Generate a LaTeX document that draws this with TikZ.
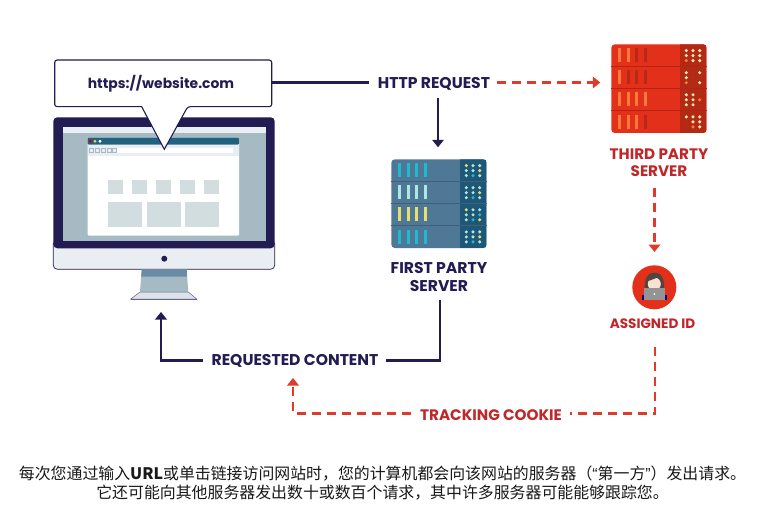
\documentclass[tikz,border=0pt]{standalone}
\usepackage{fontspec}
\setmainfont{Poppins}
\newfontfamily\cjk{Noto Sans CJK SC}
\newfontfamily\lat{Liberation Sans}
\usetikzlibrary{arrows.meta}
\definecolor{navy}{HTML}{221C52}
\definecolor{redtxt}{HTML}{C0272A}
\definecolor{reddash}{HTML}{DF3A2C}
\definecolor{slate}{HTML}{A6BAC4}
\definecolor{pale}{HTML}{E9EEF2}
\definecolor{tile}{HTML}{D2DDE0}
\definecolor{teal}{HTML}{23627E}
\definecolor{fsbody}{HTML}{4F7796}
\definecolor{fsside}{HTML}{1F5776}
\definecolor{fsline}{HTML}{3D617D}
\definecolor{cy}{HTML}{1FBAD0}
\definecolor{pl}{HTML}{ADE8DF}
\definecolor{ye}{HTML}{E6DF6C}
\definecolor{rsbody}{HTML}{E2301A}
\definecolor{rsside}{HTML}{B32A14}
\definecolor{rsline}{HTML}{B42414}
\definecolor{og}{HTML}{FF7A3C}
\definecolor{dr}{HTML}{B92A16}
\definecolor{wh}{HTML}{FFE9B8}
\definecolor{hair}{HTML}{54443F}
\definecolor{skin}{HTML}{F6E3D3}
\tikzset{
  lbl/.style={font=\bfseries\fontsize{15.6}{17.5}\selectfont,text=navy,inner sep=0pt,align=center},
  rlbl/.style={font=\bfseries\fontsize{15.2}{17.5}\selectfont,text=redtxt,inner sep=0pt,align=center},
  solidc/.style={draw=navy,color=navy,line width=2.2pt},
  dashc/.style={draw=reddash,color=reddash,line width=2.2pt,dash pattern=on 9pt off 6pt},
  tipn/.style={-{Triangle[length=7.5pt,width=11.5pt]}},
  box/.style={inner sep=0pt,anchor=north west},
}
% #1 x, #2 y, #3 body, #4 side, #5 line, #6 bars, #7 dots
\newcommand{\srv}[7]{
  \fill[#3,rounded corners=3.5pt] (#1,#2) rectangle ++(95.4,88.7);
  \begin{scope}
    \clip[rounded corners=3.5pt] (#1,#2) rectangle ++(95.4,88.7);
    \fill[#4] (#1+68.7,#2) rectangle ++(27,89);
  \end{scope}
  \foreach \d in {1,2,3}{\draw[#5,line width=.7pt] (#1,#2+22.1*\d) -- ++(95.4,0);}
  \foreach \c [count=\i from 0] in {#6}{
    \pgfmathsetmacro{\rr}{int(\i/4)}
    \pgfmathsetmacro{\cc}{int(mod(\i,4))}
    \fill[\c] (#1+6.7+8.55*\cc,#2+4+22.1*\rr) rectangle ++(3,14);
  }
  \foreach \c [count=\i from 0] in {#7}{
    \pgfmathsetmacro{\rr}{int(\i/9)}
    \pgfmathsetmacro{\sr}{int(mod(\i,9)/3)}
    \pgfmathsetmacro{\cc}{int(mod(\i,3))}
    \fill[\c] (#1+75+6.7*\cc,#2+6.3+22.1*\rr+5*\sr) circle (1.7);
  }
}
\begin{document}
\begin{tikzpicture}[x=1pt,y=-1pt]
\useasboundingbox (0,0) rectangle (762,521);
\fill[white] (0,0) rectangle (762,521);
% monitor
\path[draw=navy,line width=.7pt,fill=pale,rounded corners=4pt] (53.3,240) rectangle (274.7,269.3);
\fill[navy,rounded corners=4pt] (53.3,117.3) -- (274.7,117.3) -- (274.7,248.3) -- (53.3,248.3) -- cycle;
\fill[slate] (62.7,127.3) rectangle (265.7,241);
\fill[pale] (62.7,127.3) rectangle (265.7,133.3);
\fill[white,rounded corners=1pt] (87.7,137.7) rectangle (239,235.7);
\fill[pale] (87.7,144.7) rectangle (239,156);
\fill[teal,rounded corners=1pt] (87.7,137.7) rectangle (239,144.7);
\fill[red!80!black] (90.5,141.2) circle (1.6);
\fill[ye!80!orange] (95,141.2) circle (1.6);
\fill[white] (100,141.2) circle (1.6);
\foreach \x in {91,97,103,109,114}{\draw[slate,line width=.4pt] (\x-2,148.5) rectangle (\x+2,152.5);}
\fill[white] (117,148) rectangle (233,153.3);
\foreach \x in {108,132,156,180,204}{\fill[tile] (\x,180) rectangle ++(15,13.7);}
\fill[tile] (108,202) rectangle (141.7,226.7);
\fill[tile] (147,202) rectangle (181,226.7);
\fill[tile] (185.3,202) rectangle (219.3,226.7);
\fill[navy] (164.3,258.7) circle (3);
% stand
\fill[slate] (141.7,269.6) -- (186.7,269.6) -- (188.3,292) -- (140,292) -- cycle;
\fill[fsbody!70!slate] (141.7,269.6) -- (186.7,269.6) -- (187,276.5) -- (141.3,276.5) -- cycle;
\path[draw=navy!70,line width=.5pt,fill=pale!80!slate] (140,292) -- (188.3,292) -- (196.7,299) -- (130.7,299) -- cycle;
\draw[navy!70,line width=.6pt] (130.7,299.3) -- (196.7,299.3);
% callout
\path[draw=navy,line width=1.1pt,fill=white,rounded corners=2.5pt] (54.7,60) -- (271.7,60) -- (271.7,106.7) -- (187.7,106.7) [sharp corners] -- (164.3,149.3) -- (141.7,106.7) [rounded corners=2.5pt] -- (54.7,106.7) -- cycle;
\node[box,minimum width=217pt,minimum height=46.7pt] (url) at (54.7,60) {};
\node[font=\bfseries\fontsize{13.9}{18}\selectfont,text=navy,inner sep=0pt] (urltxt) at (161,84) {https://website.com};
% servers
\node[box,minimum width=95.4pt,minimum height=88.7pt] (first) at (391.3,159.3) {};
\srv{391.3}{159.3}{fsbody}{fsside}{fsline}{cy,cy,cy,cy,pl,pl,pl,pl,ye,ye,ye,ye,cy,cy,cy,cy}{ye,pl,pl,pl,pl,ye,pl,cy,pl, pl,pl,pl,pl,pl,ye,pl,cy,pl, ye,pl,pl,pl,pl,cy,pl,cy,ye, pl,pl,pl,pl,pl,ye,pl,cy,pl}
\node[box,minimum width=95.4pt,minimum height=88.7pt] (third) at (611.3,44.3) {};
\srv{611.3}{44.3}{rsbody}{rsside}{rsline}{og,og,dr,dr,og,dr,dr,dr,og,og,og,og,og,og,og,dr}{wh,wh,wh,wh,wh,wh,og,wh,wh, wh,dr,wh,wh,dr,dr,og,dr,wh, wh,wh,dr,wh,wh,og,wh,wh,dr, wh,wh,wh,dr,wh,wh,dr,og,wh}
% assigned id icon
\node[circle,fill=rsbody,minimum size=44pt,inner sep=0pt] (id) at (654.3,287.3) {};
\fill[hair] (645,292) .. controls (643,276) and (650,272.5) .. (654.5,272.5) .. controls (660,272.5) and (666,277) .. (663.5,292) -- cycle;
\fill[skin] (654.3,284) ellipse (6.5 and 6.5);
\fill[hair] (648,281) .. controls (651,280) and (656,278.5) .. (658,277) .. controls (660,278) and (661,280) .. (661,282) -- (661,277) -- (650,275) -- cycle;
\fill[blue!55!black] (642,295) rectangle (667,300);
\fill[black!42] (644,288) rectangle (665,299.5);
\fill[white] (654.3,294) circle (1);
% labels
\node[lbl] (http) at (434,84) {HTTP REQUEST};
\node[lbl] (firstl) at (439,277) {FIRST PARTY\\SERVER};
\node[rlbl] (thirdl) at (659,162.5) {THIRD PARTY\\SERVER};
\node[rlbl,font=\bfseries\fontsize{13.6}{17}\selectfont] (idl) at (652.5,323.8) {ASSIGNED ID};
\node[lbl] (req) at (295,361) {REQUESTED CONTENT};
\node[rlbl] (track) at (491,415) {TRACKING COOKIE};
% connectors
\coordinate (c1) at (440,360.5);
\coordinate (c2) at (161,360.5);
\coordinate (c3) at (655,413.5);
\coordinate (c4) at (293,413.5);
\coordinate (monb) at (161,312);
\coordinate (cookieend) at (293,378);
\coordinate (h1) at (272,82.5);
\draw[solidc] (h1) -- ([xshift=-9pt]http.west |- h1);
\draw[dashc,tipn] ([xshift=7pt]http.east |- h1) -- ([xshift=-11pt]third.west |- h1);
\draw[solidc,tipn] ([xshift=4pt,yshift=-7pt]http.south) -- ([xshift=4pt,yshift=12pt]first.north -| http);
\draw[dashc,tipn] (654.5,188) -- (654.5,252);
\draw[solidc] (440,300) -- (c1) -- ([xshift=7pt]req.east |- c1);
\draw[solidc,tipn] ([xshift=-8pt]req.west |- c1) -- (c2) -- (monb);
\draw[dashc] (655,347) -- (c3) -- ([xshift=8pt]track.east |- c3);
\draw[dashc,tipn] ([xshift=-9pt]track.west |- c3) -- (c4) -- (cookieend);
% caption
\node[font=\cjk\fontsize{15.9}{19}\selectfont,text=black!90,inner sep=0pt,align=center] (cap) at (382.5,483.5) {每次您通过输入{\bfseries URL}或单击链接访问网站时，您的计算机都会向该网站的服务器（{\lat “}第一方{\lat ”}）发出请求。\\它还可能向其他服务器发出数十或数百个请求，其中许多服务器可能能够跟踪您。};
\end{tikzpicture}
\end{document}
